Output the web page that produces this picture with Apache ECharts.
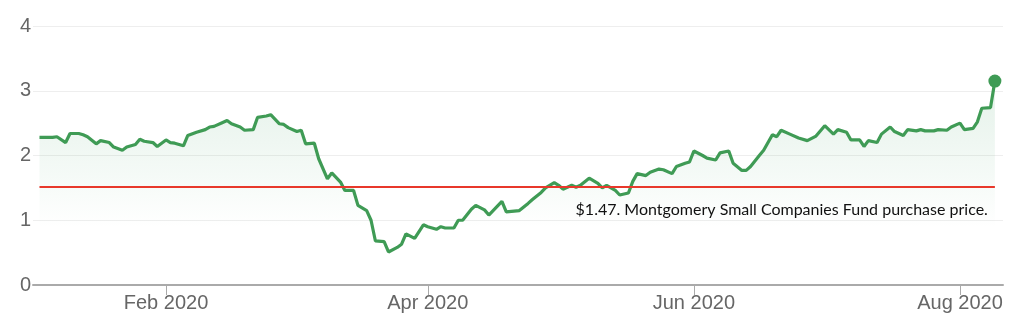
<!DOCTYPE html>
<html><head><meta charset="utf-8">
<script src="https://cdn.jsdelivr.net/npm/echarts@6/dist/echarts.min.js"></script>
<style>html,body{margin:0;padding:0;background:#fff}#c{width:1024px;height:331px}</style>
</head><body><div id="c"></div>
<script>
const dates = [
'2020-01-03','2020-01-06','2020-01-07','2020-01-09','2020-01-10','2020-01-12','2020-01-13','2020-01-14','2020-01-16','2020-01-17','2020-01-19','2020-01-20','2020-01-22','2020-01-23','2020-01-25','2020-01-26','2020-01-27','2020-01-29','2020-01-30',
'2020-02-01','2020-02-02','2020-02-03','2020-02-05','2020-02-06','2020-02-08','2020-02-10','2020-02-11','2020-02-12','2020-02-14','2020-02-15','2020-02-16','2020-02-18','2020-02-19','2020-02-21','2020-02-22','2020-02-24','2020-02-25','2020-02-27','2020-02-28','2020-02-29',
'2020-03-02','2020-03-03','2020-03-04','2020-03-06','2020-03-07','2020-03-09','2020-03-10','2020-03-12','2020-03-13','2020-03-15','2020-03-16','2020-03-18','2020-03-19','2020-03-20','2020-03-22','2020-03-23','2020-03-25','2020-03-26','2020-03-27','2020-03-29','2020-03-31',
'2020-04-01','2020-04-03','2020-04-04','2020-04-05','2020-04-07','2020-04-08','2020-04-09','2020-04-11','2020-04-12','2020-04-14','2020-04-15','2020-04-18','2020-04-19','2020-04-22','2020-04-24','2020-04-25','2020-04-27','2020-04-28','2020-04-30',
'2020-05-01','2020-05-02','2020-05-04','2020-05-05','2020-05-06','2020-05-08','2020-05-10','2020-05-11','2020-05-12','2020-05-14','2020-05-15','2020-05-17','2020-05-18','2020-05-19','2020-05-21','2020-05-22','2020-05-24','2020-05-25','2020-05-27','2020-05-28','2020-05-30','2020-05-31',
'2020-06-01','2020-06-03','2020-06-04','2020-06-06','2020-06-07','2020-06-09','2020-06-10','2020-06-12','2020-06-13','2020-06-14','2020-06-16','2020-06-17','2020-06-19','2020-06-20','2020-06-21','2020-06-23','2020-06-25','2020-06-27','2020-06-29',
'2020-07-01','2020-07-03','2020-07-04','2020-07-06','2020-07-07','2020-07-09','2020-07-10','2020-07-11','2020-07-13','2020-07-14','2020-07-16','2020-07-17','2020-07-19','2020-07-20','2020-07-22','2020-07-23','2020-07-24','2020-07-26','2020-07-27','2020-07-29','2020-07-30',
'2020-08-01','2020-08-02','2020-08-04','2020-08-05','2020-08-06','2020-08-08','2020-08-09'
];
const prices = [
2.28,2.28,2.29,2.20,2.34,2.34,2.32,2.29,2.18,2.23,2.20,2.13,2.08,2.13,2.17,2.25,2.22,2.20,2.14,
2.24,2.20,2.19,2.15,2.31,2.36,2.40,2.44,2.45,2.51,2.54,2.49,2.44,2.39,2.40,2.59,2.61,2.63,2.49,2.48,2.43,
2.37,2.39,2.18,2.19,1.95,1.64,1.73,1.59,1.46,1.46,1.23,1.15,1.00,0.68,0.67,0.51,0.58,0.63,0.79,0.72,0.93,
0.90,0.86,0.90,0.88,0.88,1.00,1.00,1.17,1.23,1.16,1.08,1.29,1.13,1.15,1.26,1.32,1.43,1.50,1.58,
1.54,1.48,1.54,1.51,1.54,1.65,1.57,1.50,1.54,1.46,1.39,1.42,1.60,1.72,1.69,1.74,1.79,1.78,1.72,1.83,1.88,1.90,
2.07,2.00,1.96,1.93,2.04,2.07,1.88,1.77,1.77,1.83,2.00,2.08,2.32,2.29,2.39,2.33,2.27,2.23,2.30,
2.46,2.33,2.40,2.36,2.24,2.24,2.14,2.23,2.20,2.33,2.44,2.37,2.31,2.40,2.38,2.40,2.38,2.38,2.40,2.39,2.44,
2.50,2.40,2.42,2.52,2.73,2.74,3.15
];
const purchasePrice = 1.52;
const purchaseLabel = '$1.47. Montgomery Small Companies Fund purchase price.';
const xTickDates = ['2020-02-01','2020-04-01','2020-06-01','2020-08-01'];
const monthNames = ['Jan','Feb','Mar','Apr','May','Jun','Jul','Aug','Sep','Oct','Nov','Dec'];
const xRange = ['2020-01-01 12:20', '2020-08-10 20:38'];

function ts(s) {
  const [d, t] = s.split(' ');
  const [y, m, day] = d.split('-').map(Number);
  let hh = 0, mm = 0;
  if (t) { [hh, mm] = t.split(':').map(Number); }
  return new Date(y, m - 1, day, hh, mm).getTime();
}

const seriesData = dates.map((d, i) => [ts(d), prices[i]]);
const last = seriesData[seriesData.length - 1];
const green = '#3f9b55';
const tickValues = xTickDates.map(ts);

const chart = echarts.init(document.getElementById('c'), null, {renderer: 'canvas'});
chart.setOption({
  animation: false,
  backgroundColor: '#fff',
  grid: {left: 33, right: 21, top: 26, bottom: 46},
  xAxis: {
    type: 'value',
    min: ts(xRange[0]),
    max: ts(xRange[1]),
    axisLine: {show: true, lineStyle: {color: '#aaaaaa', width: 2}},
    axisTick: {show: true, length: 10, lineStyle: {color: '#aaaaaa', width: 1},
      customValues: tickValues},
    axisLabel: {
      customValues: tickValues,
      fontSize: 20, color: '#666666', fontFamily: 'Liberation Sans, Arial, sans-serif', margin: 8,
      formatter: function (v) { const d = new Date(v); return monthNames[d.getMonth()] + ' ' + d.getFullYear(); }
    },
    splitLine: {show: false}
  },
  yAxis: {
    type: 'value', min: 0, max: 4, interval: 1,
    axisLine: {show: false}, axisTick: {show: false},
    axisLabel: {fontSize: 20, color: '#666666', fontFamily: 'Liberation Sans, Arial, sans-serif', margin: 2},
    splitLine: {lineStyle: {color: '#eeeeee', width: 1}}
  },
  series: [
    {
      type: 'line',
      data: seriesData,
      showSymbol: false,
      symbol: 'none',
      lineStyle: {color: green, width: 3.2},
      areaStyle: {
        color: new echarts.graphic.LinearGradient(0, 0, 0, 1, [
          {offset: 0, color: 'rgba(64,160,100,0.20)'},
          {offset: 0.45, color: 'rgba(64,160,100,0.08)'},
          {offset: 0.72, color: 'rgba(64,160,100,0.0)'},
          {offset: 1, color: 'rgba(64,160,100,0.0)'}
        ])
      },
      z: 3,
      markLine: {
        silent: true,
        symbol: 'none',
        animation: false,
        lineStyle: {color: '#e8382b', width: 2, type: 'solid'},
        label: {
          show: true,
          position: 'insideEndBottom',
          formatter: purchaseLabel,
          fontFamily: 'Lato, "Open Sans", sans-serif',
          fontSize: 16,
          color: '#111111',
          distance: [7, 15]
        },
        data: [[{coord: [seriesData[0][0], purchasePrice]}, {coord: [last[0], purchasePrice]}]]
      }
    },
    {
      type: 'scatter',
      data: [last],
      symbolSize: 13,
      itemStyle: {color: green, opacity: 1},
      z: 4
    }
  ]
});
</script>
</body></html>
